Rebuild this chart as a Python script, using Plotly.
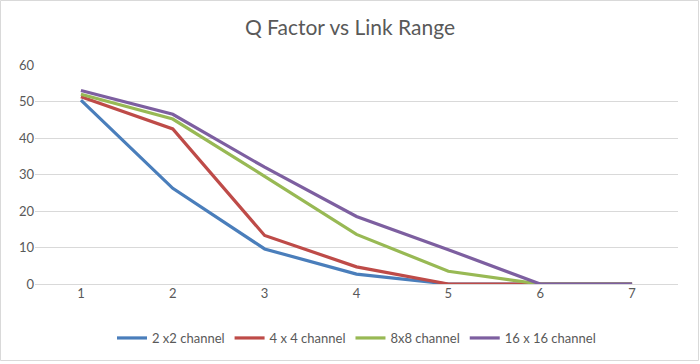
import plotly.graph_objects as go

link_range = ["1", "2", "3", "4", "5", "6", "7"]
series_names = ["2 x2 channel", "4 x 4 channel", "8x8 channel", "16 x 16 channel"]
q_2x2 = [50.4, 26.2, 9.6, 2.7, 0, 0, 0]
q_4x4 = [51.3, 42.5, 13.3, 4.7, 0, 0, 0]
q_8x8 = [52.0, 45.2, 29.5, 13.6, 3.5, 0, 0]
q_16x16 = [53.0, 46.5, 32.0, 18.5, 9.4, 0, 0]
colors = ["#4A7EBB", "#BE4B48", "#98B954", "#7D5FA0"]

fig = go.Figure()
for name, vals, c in zip(series_names, [q_2x2, q_4x4, q_8x8, q_16x16], colors):
    fig.add_trace(go.Scatter(x=link_range, y=vals, mode="lines", name=name,
                             line=dict(color=c, width=3.2)))

W, H = 700, 364
L, R, T, B = 35, 22, 65, 80
pw, ph = W - L - R, H - T - B

def px(x):
    return (x - L) / pw

def py(y):
    return (H - B - y) / ph

fig.update_layout(
    width=W, height=H,
    margin=dict(l=L, r=R, t=T, b=B, autoexpand=False),
    paper_bgcolor="white", plot_bgcolor="white",
    font=dict(family="Lato, Open Sans, sans-serif", color="#595959", size=13),
    title=dict(text="Q Factor vs Link Range", x=0.5, xanchor="center",
               yref="container", y=1 - 28 / H, yanchor="middle",
               font=dict(size=21, color="#595959")),
    xaxis=dict(type="category", range=[-0.5, 6.5], showgrid=False, automargin=False,
               showline=False, ticks="", tickfont=dict(size=13, color="#595959")),
    yaxis=dict(range=[0, 60], dtick=10, showgrid=True, gridcolor="#D9D9D9", automargin=False,
               gridwidth=1, zeroline=True, zerolinecolor="#D9D9D9", zerolinewidth=1,
               ticks="", tickfont=dict(size=13, color="#595959"), fixedrange=True),
    legend=dict(orientation="h", x=0.5, xanchor="center", y=py(338), yanchor="middle",
                font=dict(size=13, color="#595959"), itemwidth=30,
                traceorder="normal"),
    showlegend=True,
    shapes=[dict(type="rect", xref="paper", yref="paper",
                 x0=px(0.5), x1=px(698.5), y0=py(360.5), y1=py(0.5),
                 line=dict(color="#D9D9D9", width=1), fillcolor="rgba(0,0,0,0)",
                 layer="below")],
)

fig.write_html("out.html", config={"displayModeBar": False},
               post_script="document.body.style.margin='0';document.body.style.overflow='hidden';")
